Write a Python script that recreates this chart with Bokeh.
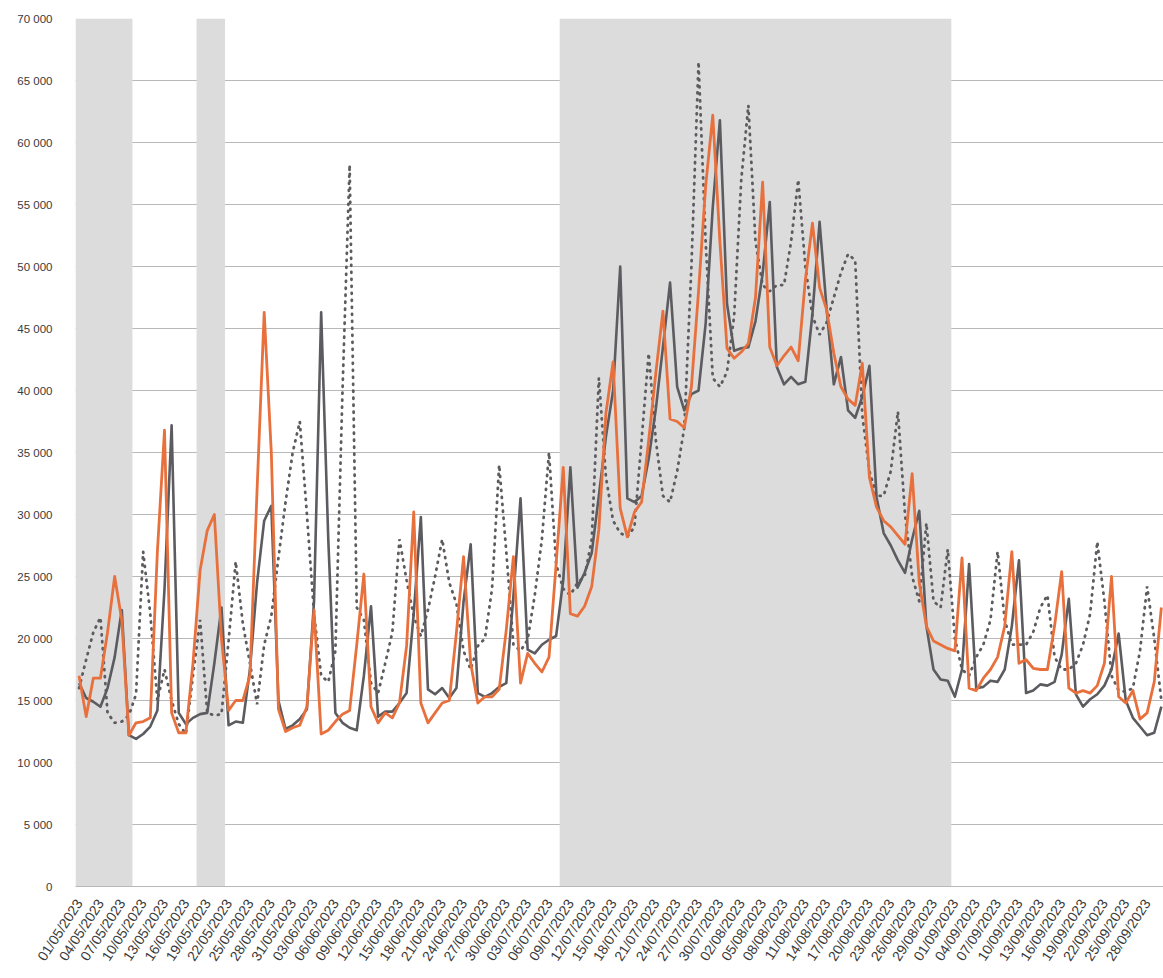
import math
import pandas as pd
from bokeh.plotting import figure
from bokeh.models import Range1d
from bokeh.embed import file_html
from bokeh.resources import INLINE

# ---------------- data ----------------
start_date = "2023-05-01"
n_days = 153
dates = pd.date_range(start_date, periods=n_days, freq="D")
date_labels = [d.strftime("%d/%m/%Y") for d in dates]

# orange solid line (thousands)
series_orange = [
    17.0, 13.7, 16.8, 16.8, 20.5, 25.0, 21.5, 12.2, 13.2, 13.3,
    13.6, 27.0, 36.8, 14.0, 12.4, 12.4, 18.0, 25.5, 28.7, 30.0,
    20.0, 14.2, 15.0, 15.0, 17.0, 32.0, 46.3, 35.0, 14.3, 12.5,
    12.8, 13.0, 14.5, 22.3, 12.3, 12.6, 13.3, 13.9, 14.2, 19.5,
    25.2, 14.5, 13.2, 14.0, 13.6, 14.8, 19.4, 30.2, 14.8, 13.2,
    14.0, 14.8, 15.0, 20.5, 26.6, 18.0, 14.8, 15.3, 15.3, 15.9,
    20.7, 26.6, 16.4, 18.8, 18.0, 17.3, 18.5, 26.0, 33.8, 22.0,
    21.8, 22.6, 24.2, 28.8, 38.2, 42.3, 30.5, 28.2, 30.2, 31.0,
    36.0, 41.4, 46.4, 37.7, 37.5, 37.0, 40.3, 48.0, 56.5, 62.2,
    52.0, 43.4, 42.6, 43.1, 43.8, 47.5, 56.8, 43.5, 42.0, 42.8,
    43.5, 42.4, 48.9, 53.5, 48.3, 46.5, 43.0, 40.3, 39.3, 38.8,
    42.2, 33.0, 30.6, 29.5, 29.0, 28.3, 27.6, 33.3, 24.5, 21.0,
    19.8, 19.5, 19.2, 19.0, 26.5, 16.0, 15.8, 16.8, 17.5, 18.5,
    21.0, 27.0, 18.0, 18.3, 17.6, 17.5, 17.5, 21.0, 25.4, 16.0,
    15.6, 15.8, 15.6, 16.2, 18.0, 25.0, 15.3, 14.8, 15.8, 13.5,
    14.0, 16.5, 22.5,
]

# dark grey solid line (thousands)
series_grey = [
    16.4, 15.2, 14.9, 14.5, 16.0, 18.5, 22.3, 12.2, 11.9, 12.3,
    12.9, 14.2, 24.0, 37.2, 14.0, 13.1, 13.6, 13.9, 14.0, 18.0,
    22.5, 13.0, 13.3, 13.2, 17.5, 24.5, 29.5, 30.7, 15.0, 12.7,
    13.0, 13.5, 14.3, 23.0, 46.3, 28.0, 14.0, 13.2, 12.8, 12.6,
    17.0, 22.6, 13.7, 14.1, 14.1, 14.8, 15.6, 22.0, 29.8, 15.9,
    15.5, 16.0, 15.2, 16.0, 23.0, 27.6, 15.6, 15.3, 15.6, 16.1,
    16.4, 23.4, 31.3, 19.1, 18.8, 19.5, 19.9, 20.2, 24.7, 33.8,
    24.1, 25.3, 26.9, 31.5, 36.3, 40.0, 50.0, 31.3, 31.0, 31.5,
    34.5, 38.5, 43.5, 48.7, 40.3, 38.4, 39.7, 40.0, 45.4, 54.8,
    61.8, 47.0, 43.2, 43.4, 43.5, 45.6, 49.4, 55.2, 41.9, 40.5,
    41.1, 40.5, 40.7, 46.2, 53.6, 46.5, 40.5, 42.7, 38.4, 37.8,
    39.5, 42.0, 31.4, 28.5, 27.5, 26.3, 25.3, 28.0, 30.3, 21.0,
    17.5, 16.7, 16.6, 15.3, 17.5, 26.0, 16.0, 16.1, 16.6, 16.5,
    17.5, 21.0, 26.3, 15.6, 15.8, 16.3, 16.2, 16.5, 18.7, 23.2,
    15.5, 14.5, 15.1, 15.5, 16.2, 17.5, 20.4, 15.0, 13.6, 12.9,
    12.2, 12.4, 14.5,
]

# grey dotted line (thousands)
series_dotted = [
    16.0, 18.3, 20.5, 21.7, 14.0, 13.2, 13.3, 13.8, 15.5, 27.0,
    22.0, 15.0, 17.5, 15.0, 13.1, 12.3, 17.0, 21.5, 14.0, 13.8,
    13.9, 19.8, 26.2, 21.2, 18.0, 14.7, 19.5, 21.8, 26.5, 31.0,
    35.0, 37.5, 30.0, 22.0, 17.0, 16.5, 19.0, 40.0, 58.2, 22.5,
    21.5, 16.4, 15.6, 18.0, 20.5, 28.0, 24.7, 21.8, 20.2, 22.3,
    25.0, 28.0, 24.5, 22.8, 19.0, 17.5, 19.4, 20.0, 24.0, 34.0,
    27.0, 19.5, 19.0, 19.9, 23.5, 28.0, 35.0, 26.0, 24.0, 23.5,
    24.5, 25.0, 28.0, 41.0, 33.0, 29.5, 28.5, 28.2, 29.0, 36.0,
    43.0, 36.0, 31.5, 31.0, 33.5, 37.0, 50.0, 66.5, 52.0, 41.0,
    40.3, 41.5, 46.0, 57.0, 63.0, 52.0, 48.5, 48.0, 48.5, 48.5,
    52.0, 57.0, 50.0, 46.0, 44.5, 45.5, 47.5, 49.5, 51.0, 50.5,
    38.0, 33.5, 31.5, 31.5, 33.5, 38.3, 30.0, 25.0, 23.0, 29.3,
    23.0, 22.5, 27.2, 20.0, 17.5, 17.0, 18.5, 19.5, 21.5, 27.0,
    21.5, 19.5, 19.5, 19.5, 20.5, 22.5, 23.5, 18.5, 17.5, 17.5,
    18.0, 19.5, 22.0, 27.8, 23.0, 17.0, 15.8, 15.7, 16.0, 19.0,
    24.2, 20.0, 15.0,
]

# shaded holiday periods (first day, last day)
holiday_periods = [
    ("01/05/2023", "08/05/2023"),
    ("18/05/2023", "21/05/2023"),
    ("08/07/2023", "31/08/2023"),
]

y_ticks = [0, 5000, 10000, 15000, 20000, 25000, 30000, 35000,
           40000, 45000, 50000, 55000, 60000, 65000, 70000]
y_tick_labels = ["0", "5 000", "10 000", "15 000", "20 000", "25 000", "30 000",
                 "35 000", "40 000", "45 000", "50 000", "55 000", "60 000",
                 "65 000", "70 000"]
x_tick_step = 3

# ---------------- figure ----------------
FONT = "Liberation Sans"
TEXT = "#3a3a3a"
GRID = "#b8b8b8"

x_idx = list(range(n_days))
p = figure(width=1163, height=972, output_backend="svg", toolbar_location=None,
           x_range=Range1d(-0.5, n_days - 0.7), y_range=Range1d(0, 70000),
           min_border_left=75, min_border_right=0, min_border_top=18,
           min_border_bottom=86)
p.outline_line_color = None
p.background_fill_color = "white"
p.border_fill_color = "white"

# bands
lefts, rights = [], []
for a, b in holiday_periods:
    lefts.append(date_labels.index(a) - 0.5)
    rights.append(date_labels.index(b) + 0.5)
p.quad(left=lefts, right=rights, bottom=[y_ticks[0]] * len(lefts),
       top=[y_ticks[-1]] * len(lefts), fill_color="#dcdcdc", line_color=None)

p.line(x_idx, [v * 1000 for v in series_dotted], line_color="#5c5c60",
       line_width=2.8, line_dash="1 6", line_cap="round")
p.line(x_idx, [v * 1000 for v in series_grey], line_color="#5b5b60",
       line_width=2.6, line_join="round")
p.line(x_idx, [v * 1000 for v in series_orange], line_color="#e8703d",
       line_width=2.8, line_join="round")

# grid
p.xgrid.visible = False
p.ygrid.ticker = y_ticks
p.ygrid.grid_line_color = GRID
p.ygrid.grid_line_width = 1

# y axis
p.yaxis.ticker = y_ticks
p.yaxis.major_label_overrides = {t: s for t, s in zip(y_ticks, y_tick_labels)}
p.yaxis.axis_line_color = None
p.yaxis.major_tick_line_color = None
p.yaxis.minor_tick_line_color = None
p.yaxis.major_label_standoff = 17
p.yaxis.major_label_text_font = FONT
p.yaxis.major_label_text_font_size = "11.5px"
p.yaxis.major_label_text_color = TEXT

# x axis
x_ticks = list(range(0, n_days, x_tick_step))
p.xaxis.ticker = x_ticks
p.xaxis.major_label_overrides = {t: date_labels[t] for t in x_ticks}
p.xaxis.major_label_orientation = math.radians(57)
p.xaxis.axis_line_color = GRID
p.xaxis.major_tick_line_color = None
p.xaxis.minor_tick_line_color = None
p.xaxis.major_label_standoff = 8
p.xaxis.major_label_text_font = FONT
p.xaxis.major_label_text_font_size = "14px"
p.xaxis.major_label_text_color = TEXT

open("out.html", "w").write(file_html(p, INLINE))
